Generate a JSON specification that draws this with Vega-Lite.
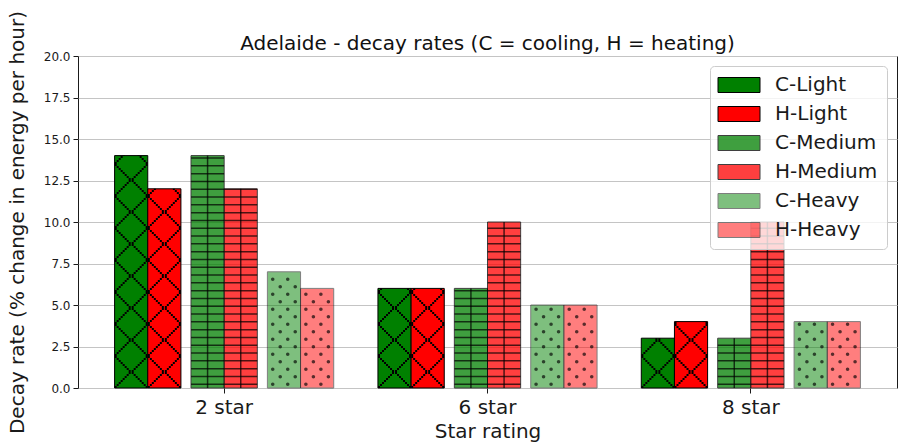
{
  "$schema": "https://vega.github.io/schema/vega-lite/v6.json",
  "width": 819,
  "height": 332,
  "autosize": {"type": "none"},
  "padding": {"left": 78, "top": 56, "right": 2, "bottom": 58},
  "title": {
    "text": "Adelaide - decay rates (C = cooling, H = heating)",
    "fontSize": 20,
    "fontWeight": "normal",
    "color": "#111111",
    "anchor": "middle",
    "frame": "group",
    "baseline": "alphabetic",
    "offset": -60
  },
  "data": {
    "values": [
      {"star": "2 star", "series": "C-Light", "type": "C", "weight": "Light", "value": 14},
      {"star": "2 star", "series": "H-Light", "type": "H", "weight": "Light", "value": 12},
      {"star": "2 star", "series": "C-Medium", "type": "C", "weight": "Medium", "value": 14},
      {"star": "2 star", "series": "H-Medium", "type": "H", "weight": "Medium", "value": 12},
      {"star": "2 star", "series": "C-Heavy", "type": "C", "weight": "Heavy", "value": 7},
      {"star": "2 star", "series": "H-Heavy", "type": "H", "weight": "Heavy", "value": 6},
      {"star": "6 star", "series": "C-Light", "type": "C", "weight": "Light", "value": 6},
      {"star": "6 star", "series": "H-Light", "type": "H", "weight": "Light", "value": 6},
      {"star": "6 star", "series": "C-Medium", "type": "C", "weight": "Medium", "value": 6},
      {"star": "6 star", "series": "H-Medium", "type": "H", "weight": "Medium", "value": 10},
      {"star": "6 star", "series": "C-Heavy", "type": "C", "weight": "Heavy", "value": 5},
      {"star": "6 star", "series": "H-Heavy", "type": "H", "weight": "Heavy", "value": 5},
      {"star": "8 star", "series": "C-Light", "type": "C", "weight": "Light", "value": 3},
      {"star": "8 star", "series": "H-Light", "type": "H", "weight": "Light", "value": 4},
      {"star": "8 star", "series": "C-Medium", "type": "C", "weight": "Medium", "value": 3},
      {"star": "8 star", "series": "H-Medium", "type": "H", "weight": "Medium", "value": 10},
      {"star": "8 star", "series": "C-Heavy", "type": "C", "weight": "Heavy", "value": 4},
      {"star": "8 star", "series": "H-Heavy", "type": "H", "weight": "Heavy", "value": 4}
    ]
  },
  "encoding": {
    "x": {
      "field": "star",
      "type": "nominal",
      "scale": {"domain": ["2 star", "6 star", "8 star"], "paddingInner": 0, "paddingOuter": 0.055},
      "axis": {"title": "Star rating", "labelAngle": 0, "labelFontSize": 20, "titleFontSize": 20, "labelPadding": 4, "titlePadding": 4, "grid": false}
    },
    "y": {
      "field": "value",
      "type": "quantitative",
      "stack": null,
      "scale": {"domain": [0, 20], "nice": false},
      "axis": {
        "title": "Decay rate (% change in energy per hour)",
        "values": [0, 2.5, 5, 7.5, 10, 12.5, 15, 17.5, 20],
        "format": ".1f",
        "labelFontSize": 12,
        "titleFontSize": 20,
        "labelPadding": 3,
        "titlePadding": 16,
        "grid": true
      }
    }
  },
  "layer": [
    {
      "transform": [{"filter": "datum.type === 'C'"}],
      "layer": [
        {
          "mark": {"type": "bar", "stroke": "black", "strokeWidth": 1},
          "encoding": {
            "xOffset": {"field": "weight", "type": "nominal", "scale": {"domain": ["Light", "Medium", "Heavy"], "paddingInner": 0.5661, "paddingOuter": 0.5065, "align": 0.2858}},
            "color": {
              "field": "series",
              "type": "nominal",
              "scale": {"domain": ["C-Light", "H-Light", "C-Medium", "H-Medium", "C-Heavy", "H-Heavy"], "range": ["#008000", "#ff0000", "#008000", "#ff0000", "#008000", "#ff0000"]},
              "legend": {
                "title": null,
                "orient": "top-right",
                "offset": 10,
                "encode": {"symbols": {"update": {"stroke": {"value": "black"}, "strokeWidth": {"value": 1}}}}
              }
            },
            "opacity": {
              "field": "series",
              "type": "nominal",
              "scale": {"type": "ordinal", "domain": ["C-Light", "H-Light", "C-Medium", "H-Medium", "C-Heavy", "H-Heavy"], "range": [1, 1, 0.75, 0.75, 0.5, 0.5]},
              "legend": {"title": null, "orient": "top-right", "offset": 10}
            }
          }
        },
        {
          "transform": [{"filter": "datum.weight === 'Light'"}],
          "encoding": {"y": {"datum": 0, "type": "quantitative"}, "y2": {"field": "value"}},
          "resolve": {"scale": {"xOffset": "independent"}},
          "layer": [
            {"mark": {"type": "rule", "strokeDash": [2, 28, 2, 0], "strokeDashOffset": 0}, "encoding": {"xOffset": {"field": "weight", "type": "nominal", "scale": {"domain": ["Light", "Medium", "Heavy"], "paddingInner": 0.5661, "paddingOuter": 0.5065, "align": 0.0855}}}},
            {"mark": {"type": "rule", "strokeDash": [2, 24, 2, 4], "strokeDashOffset": 30}, "encoding": {"xOffset": {"field": "weight", "type": "nominal", "scale": {"domain": ["Light", "Medium", "Heavy"], "paddingInner": 0.5661, "paddingOuter": 0.5065, "align": 0.1114}}}},
            {"mark": {"type": "rule", "strokeDash": [2, 20, 2, 8], "strokeDashOffset": 28}, "encoding": {"xOffset": {"field": "weight", "type": "nominal", "scale": {"domain": ["Light", "Medium", "Heavy"], "paddingInner": 0.5661, "paddingOuter": 0.5065, "align": 0.1372}}}},
            {"mark": {"type": "rule", "strokeDash": [2, 16, 2, 12], "strokeDashOffset": 26}, "encoding": {"xOffset": {"field": "weight", "type": "nominal", "scale": {"domain": ["Light", "Medium", "Heavy"], "paddingInner": 0.5661, "paddingOuter": 0.5065, "align": 0.163}}}},
            {"mark": {"type": "rule", "strokeDash": [2, 12, 2, 16], "strokeDashOffset": 24}, "encoding": {"xOffset": {"field": "weight", "type": "nominal", "scale": {"domain": ["Light", "Medium", "Heavy"], "paddingInner": 0.5661, "paddingOuter": 0.5065, "align": 0.1889}}}},
            {"mark": {"type": "rule", "strokeDash": [2, 8, 2, 20], "strokeDashOffset": 22}, "encoding": {"xOffset": {"field": "weight", "type": "nominal", "scale": {"domain": ["Light", "Medium", "Heavy"], "paddingInner": 0.5661, "paddingOuter": 0.5065, "align": 0.2147}}}},
            {"mark": {"type": "rule", "strokeDash": [2, 4, 2, 24], "strokeDashOffset": 20}, "encoding": {"xOffset": {"field": "weight", "type": "nominal", "scale": {"domain": ["Light", "Medium", "Heavy"], "paddingInner": 0.5661, "paddingOuter": 0.5065, "align": 0.2406}}}},
            {"mark": {"type": "rule", "strokeDash": [2, 0, 2, 28], "strokeDashOffset": 18}, "encoding": {"xOffset": {"field": "weight", "type": "nominal", "scale": {"domain": ["Light", "Medium", "Heavy"], "paddingInner": 0.5661, "paddingOuter": 0.5065, "align": 0.2664}}}},
            {"mark": {"type": "rule", "strokeDash": [2, 0, 2, 28], "strokeDashOffset": 18}, "encoding": {"xOffset": {"field": "weight", "type": "nominal", "scale": {"domain": ["Light", "Medium", "Heavy"], "paddingInner": 0.5661, "paddingOuter": 0.5065, "align": 0.3052}}}},
            {"mark": {"type": "rule", "strokeDash": [2, 4, 2, 24], "strokeDashOffset": 20}, "encoding": {"xOffset": {"field": "weight", "type": "nominal", "scale": {"domain": ["Light", "Medium", "Heavy"], "paddingInner": 0.5661, "paddingOuter": 0.5065, "align": 0.331}}}},
            {"mark": {"type": "rule", "strokeDash": [2, 8, 2, 20], "strokeDashOffset": 22}, "encoding": {"xOffset": {"field": "weight", "type": "nominal", "scale": {"domain": ["Light", "Medium", "Heavy"], "paddingInner": 0.5661, "paddingOuter": 0.5065, "align": 0.3569}}}},
            {"mark": {"type": "rule", "strokeDash": [2, 12, 2, 16], "strokeDashOffset": 24}, "encoding": {"xOffset": {"field": "weight", "type": "nominal", "scale": {"domain": ["Light", "Medium", "Heavy"], "paddingInner": 0.5661, "paddingOuter": 0.5065, "align": 0.3827}}}},
            {"mark": {"type": "rule", "strokeDash": [2, 16, 2, 12], "strokeDashOffset": 26}, "encoding": {"xOffset": {"field": "weight", "type": "nominal", "scale": {"domain": ["Light", "Medium", "Heavy"], "paddingInner": 0.5661, "paddingOuter": 0.5065, "align": 0.4086}}}},
            {"mark": {"type": "rule", "strokeDash": [2, 20, 2, 8], "strokeDashOffset": 28}, "encoding": {"xOffset": {"field": "weight", "type": "nominal", "scale": {"domain": ["Light", "Medium", "Heavy"], "paddingInner": 0.5661, "paddingOuter": 0.5065, "align": 0.4344}}}},
            {"mark": {"type": "rule", "strokeDash": [2, 24, 2, 4], "strokeDashOffset": 30}, "encoding": {"xOffset": {"field": "weight", "type": "nominal", "scale": {"domain": ["Light", "Medium", "Heavy"], "paddingInner": 0.5661, "paddingOuter": 0.5065, "align": 0.4602}}}},
            {"mark": {"type": "rule", "strokeDash": [2, 28, 2, 0], "strokeDashOffset": 0}, "encoding": {"xOffset": {"field": "weight", "type": "nominal", "scale": {"domain": ["Light", "Medium", "Heavy"], "paddingInner": 0.5661, "paddingOuter": 0.5065, "align": 0.4861}}}}
          ]
        },
        {
          "transform": [{"filter": "datum.weight === 'Medium'"}],
          "encoding": {
            "xOffset": {"field": "weight", "type": "nominal", "scale": {"domain": ["Light", "Medium", "Heavy"], "paddingInner": 0.5661, "paddingOuter": 0.5065, "align": 0.2858}},
            "y": {"datum": 0, "type": "quantitative"},
            "y2": {"field": "value"}
          },
          "layer": [
            {"mark": {"type": "rule", "strokeWidth": 33, "strokeDash": [1.5, 6.3], "strokeDashOffset": -3, "opacity": 0.7}},
            {"mark": {"type": "rule", "strokeWidth": 1.5, "opacity": 0.7}}
          ]
        },
        {
          "transform": [{"filter": "datum.weight === 'Heavy'"}],
          "encoding": {"y": {"datum": 0, "type": "quantitative"}, "y2": {"field": "value"}},
          "resolve": {"scale": {"xOffset": "independent"}},
          "layer": [
            {"mark": {"type": "rule", "strokeWidth": 3.6, "strokeCap": "round", "strokeDash": [0.01, 14.99], "strokeDashOffset": 11.25, "opacity": 0.65}, "encoding": {"xOffset": {"field": "weight", "type": "nominal", "scale": {"domain": ["Light", "Medium", "Heavy"], "paddingInner": 0.5661, "paddingOuter": 0.5065, "align": 0.1404}}}},
            {"mark": {"type": "rule", "strokeWidth": 3.6, "strokeCap": "round", "strokeDash": [0.01, 14.99], "strokeDashOffset": 11.25, "opacity": 0.65}, "encoding": {"xOffset": {"field": "weight", "type": "nominal", "scale": {"domain": ["Light", "Medium", "Heavy"], "paddingInner": 0.5661, "paddingOuter": 0.5065, "align": 0.3343}}}},
            {"mark": {"type": "rule", "strokeWidth": 3.6, "strokeCap": "round", "strokeDash": [0.01, 14.99], "strokeDashOffset": 3.75, "opacity": 0.65}, "encoding": {"xOffset": {"field": "weight", "type": "nominal", "scale": {"domain": ["Light", "Medium", "Heavy"], "paddingInner": 0.5661, "paddingOuter": 0.5065, "align": 0.2373}}}},
            {"mark": {"type": "rule", "strokeWidth": 3.6, "strokeCap": "round", "strokeDash": [0.01, 14.99], "strokeDashOffset": 3.75, "opacity": 0.65}, "encoding": {"xOffset": {"field": "weight", "type": "nominal", "scale": {"domain": ["Light", "Medium", "Heavy"], "paddingInner": 0.5661, "paddingOuter": 0.5065, "align": 0.4312}}}}
          ]
        }
      ],
      "resolve": {"scale": {"xOffset": "independent"}}
    },
    {
      "transform": [{"filter": "datum.type === 'H'"}],
      "layer": [
        {
          "mark": {"type": "bar", "stroke": "black", "strokeWidth": 1},
          "encoding": {
            "xOffset": {"field": "weight", "type": "nominal", "scale": {"domain": ["Light", "Medium", "Heavy"], "paddingInner": 0.5661, "paddingOuter": 0.5065, "align": 0.7142}},
            "color": {
              "field": "series",
              "type": "nominal",
              "scale": {"domain": ["C-Light", "H-Light", "C-Medium", "H-Medium", "C-Heavy", "H-Heavy"], "range": ["#008000", "#ff0000", "#008000", "#ff0000", "#008000", "#ff0000"]},
              "legend": {
                "title": null,
                "orient": "top-right",
                "offset": 10,
                "encode": {"symbols": {"update": {"stroke": {"value": "black"}, "strokeWidth": {"value": 1}}}}
              }
            },
            "opacity": {
              "field": "series",
              "type": "nominal",
              "scale": {"type": "ordinal", "domain": ["C-Light", "H-Light", "C-Medium", "H-Medium", "C-Heavy", "H-Heavy"], "range": [1, 1, 0.75, 0.75, 0.5, 0.5]},
              "legend": {"title": null, "orient": "top-right", "offset": 10}
            }
          }
        },
        {
          "transform": [{"filter": "datum.weight === 'Light'"}],
          "encoding": {"y": {"datum": 0, "type": "quantitative"}, "y2": {"field": "value"}},
          "resolve": {"scale": {"xOffset": "independent"}},
          "layer": [
            {"mark": {"type": "rule", "strokeDash": [2, 28, 2, 0], "strokeDashOffset": 0}, "encoding": {"xOffset": {"field": "weight", "type": "nominal", "scale": {"domain": ["Light", "Medium", "Heavy"], "paddingInner": 0.5661, "paddingOuter": 0.5065, "align": 0.5139}}}},
            {"mark": {"type": "rule", "strokeDash": [2, 24, 2, 4], "strokeDashOffset": 30}, "encoding": {"xOffset": {"field": "weight", "type": "nominal", "scale": {"domain": ["Light", "Medium", "Heavy"], "paddingInner": 0.5661, "paddingOuter": 0.5065, "align": 0.5398}}}},
            {"mark": {"type": "rule", "strokeDash": [2, 20, 2, 8], "strokeDashOffset": 28}, "encoding": {"xOffset": {"field": "weight", "type": "nominal", "scale": {"domain": ["Light", "Medium", "Heavy"], "paddingInner": 0.5661, "paddingOuter": 0.5065, "align": 0.5656}}}},
            {"mark": {"type": "rule", "strokeDash": [2, 16, 2, 12], "strokeDashOffset": 26}, "encoding": {"xOffset": {"field": "weight", "type": "nominal", "scale": {"domain": ["Light", "Medium", "Heavy"], "paddingInner": 0.5661, "paddingOuter": 0.5065, "align": 0.5914}}}},
            {"mark": {"type": "rule", "strokeDash": [2, 12, 2, 16], "strokeDashOffset": 24}, "encoding": {"xOffset": {"field": "weight", "type": "nominal", "scale": {"domain": ["Light", "Medium", "Heavy"], "paddingInner": 0.5661, "paddingOuter": 0.5065, "align": 0.6173}}}},
            {"mark": {"type": "rule", "strokeDash": [2, 8, 2, 20], "strokeDashOffset": 22}, "encoding": {"xOffset": {"field": "weight", "type": "nominal", "scale": {"domain": ["Light", "Medium", "Heavy"], "paddingInner": 0.5661, "paddingOuter": 0.5065, "align": 0.6431}}}},
            {"mark": {"type": "rule", "strokeDash": [2, 4, 2, 24], "strokeDashOffset": 20}, "encoding": {"xOffset": {"field": "weight", "type": "nominal", "scale": {"domain": ["Light", "Medium", "Heavy"], "paddingInner": 0.5661, "paddingOuter": 0.5065, "align": 0.669}}}},
            {"mark": {"type": "rule", "strokeDash": [2, 0, 2, 28], "strokeDashOffset": 18}, "encoding": {"xOffset": {"field": "weight", "type": "nominal", "scale": {"domain": ["Light", "Medium", "Heavy"], "paddingInner": 0.5661, "paddingOuter": 0.5065, "align": 0.6948}}}},
            {"mark": {"type": "rule", "strokeDash": [2, 0, 2, 28], "strokeDashOffset": 18}, "encoding": {"xOffset": {"field": "weight", "type": "nominal", "scale": {"domain": ["Light", "Medium", "Heavy"], "paddingInner": 0.5661, "paddingOuter": 0.5065, "align": 0.7336}}}},
            {"mark": {"type": "rule", "strokeDash": [2, 4, 2, 24], "strokeDashOffset": 20}, "encoding": {"xOffset": {"field": "weight", "type": "nominal", "scale": {"domain": ["Light", "Medium", "Heavy"], "paddingInner": 0.5661, "paddingOuter": 0.5065, "align": 0.7594}}}},
            {"mark": {"type": "rule", "strokeDash": [2, 8, 2, 20], "strokeDashOffset": 22}, "encoding": {"xOffset": {"field": "weight", "type": "nominal", "scale": {"domain": ["Light", "Medium", "Heavy"], "paddingInner": 0.5661, "paddingOuter": 0.5065, "align": 0.7853}}}},
            {"mark": {"type": "rule", "strokeDash": [2, 12, 2, 16], "strokeDashOffset": 24}, "encoding": {"xOffset": {"field": "weight", "type": "nominal", "scale": {"domain": ["Light", "Medium", "Heavy"], "paddingInner": 0.5661, "paddingOuter": 0.5065, "align": 0.8111}}}},
            {"mark": {"type": "rule", "strokeDash": [2, 16, 2, 12], "strokeDashOffset": 26}, "encoding": {"xOffset": {"field": "weight", "type": "nominal", "scale": {"domain": ["Light", "Medium", "Heavy"], "paddingInner": 0.5661, "paddingOuter": 0.5065, "align": 0.837}}}},
            {"mark": {"type": "rule", "strokeDash": [2, 20, 2, 8], "strokeDashOffset": 28}, "encoding": {"xOffset": {"field": "weight", "type": "nominal", "scale": {"domain": ["Light", "Medium", "Heavy"], "paddingInner": 0.5661, "paddingOuter": 0.5065, "align": 0.8628}}}},
            {"mark": {"type": "rule", "strokeDash": [2, 24, 2, 4], "strokeDashOffset": 30}, "encoding": {"xOffset": {"field": "weight", "type": "nominal", "scale": {"domain": ["Light", "Medium", "Heavy"], "paddingInner": 0.5661, "paddingOuter": 0.5065, "align": 0.8886}}}},
            {"mark": {"type": "rule", "strokeDash": [2, 28, 2, 0], "strokeDashOffset": 0}, "encoding": {"xOffset": {"field": "weight", "type": "nominal", "scale": {"domain": ["Light", "Medium", "Heavy"], "paddingInner": 0.5661, "paddingOuter": 0.5065, "align": 0.9145}}}}
          ]
        },
        {
          "transform": [{"filter": "datum.weight === 'Medium'"}],
          "encoding": {
            "xOffset": {"field": "weight", "type": "nominal", "scale": {"domain": ["Light", "Medium", "Heavy"], "paddingInner": 0.5661, "paddingOuter": 0.5065, "align": 0.7142}},
            "y": {"datum": 0, "type": "quantitative"},
            "y2": {"field": "value"}
          },
          "layer": [
            {"mark": {"type": "rule", "strokeWidth": 33, "strokeDash": [1.5, 6.3], "strokeDashOffset": -3, "opacity": 0.7}},
            {"mark": {"type": "rule", "strokeWidth": 1.5, "opacity": 0.7}}
          ]
        },
        {
          "transform": [{"filter": "datum.weight === 'Heavy'"}],
          "encoding": {"y": {"datum": 0, "type": "quantitative"}, "y2": {"field": "value"}},
          "resolve": {"scale": {"xOffset": "independent"}},
          "layer": [
            {"mark": {"type": "rule", "strokeWidth": 3.6, "strokeCap": "round", "strokeDash": [0.01, 14.99], "strokeDashOffset": 11.25, "opacity": 0.65}, "encoding": {"xOffset": {"field": "weight", "type": "nominal", "scale": {"domain": ["Light", "Medium", "Heavy"], "paddingInner": 0.5661, "paddingOuter": 0.5065, "align": 0.5688}}}},
            {"mark": {"type": "rule", "strokeWidth": 3.6, "strokeCap": "round", "strokeDash": [0.01, 14.99], "strokeDashOffset": 11.25, "opacity": 0.65}, "encoding": {"xOffset": {"field": "weight", "type": "nominal", "scale": {"domain": ["Light", "Medium", "Heavy"], "paddingInner": 0.5661, "paddingOuter": 0.5065, "align": 0.7627}}}},
            {"mark": {"type": "rule", "strokeWidth": 3.6, "strokeCap": "round", "strokeDash": [0.01, 14.99], "strokeDashOffset": 3.75, "opacity": 0.65}, "encoding": {"xOffset": {"field": "weight", "type": "nominal", "scale": {"domain": ["Light", "Medium", "Heavy"], "paddingInner": 0.5661, "paddingOuter": 0.5065, "align": 0.6657}}}},
            {"mark": {"type": "rule", "strokeWidth": 3.6, "strokeCap": "round", "strokeDash": [0.01, 14.99], "strokeDashOffset": 3.75, "opacity": 0.65}, "encoding": {"xOffset": {"field": "weight", "type": "nominal", "scale": {"domain": ["Light", "Medium", "Heavy"], "paddingInner": 0.5661, "paddingOuter": 0.5065, "align": 0.8596}}}}
          ]
        }
      ],
      "resolve": {"scale": {"xOffset": "independent"}}
    }
  ],
  "resolve": {"scale": {"xOffset": "independent"}},
  "config": {
    "font": "DejaVu Sans",
    "view": {"stroke": "#1a1a1a", "strokeWidth": 1},
    "rule": {"color": "black", "strokeWidth": 2, "strokeCap": "butt"},
    "axis": {
      "domain": false,
      "tickColor": "#1a1a1a",
      "tickSize": 5,
      "tickWidth": 1,
      "labelColor": "#1a1a1a",
      "titleColor": "#1a1a1a",
      "titleFontWeight": "normal",
      "gridColor": "#c4c4c4",
      "gridWidth": 1
    },
    "legend": {
      "symbolType": "M-2.8,-1H2.8V1H-2.8Z",
      "symbolSize": 225,
      "symbolStrokeColor": "black",
      "symbolStrokeWidth": 1,
      "labelFontSize": 20,
      "labelColor": "#1a1a1a",
      "labelOffset": 26,
      "symbolOffset": 10,
      "rowPadding": 9,
      "padding": 9,
      "fillColor": "rgba(255,255,255,0.8)",
      "strokeColor": "#cccccc",
      "cornerRadius": 4
    }
  }
}
